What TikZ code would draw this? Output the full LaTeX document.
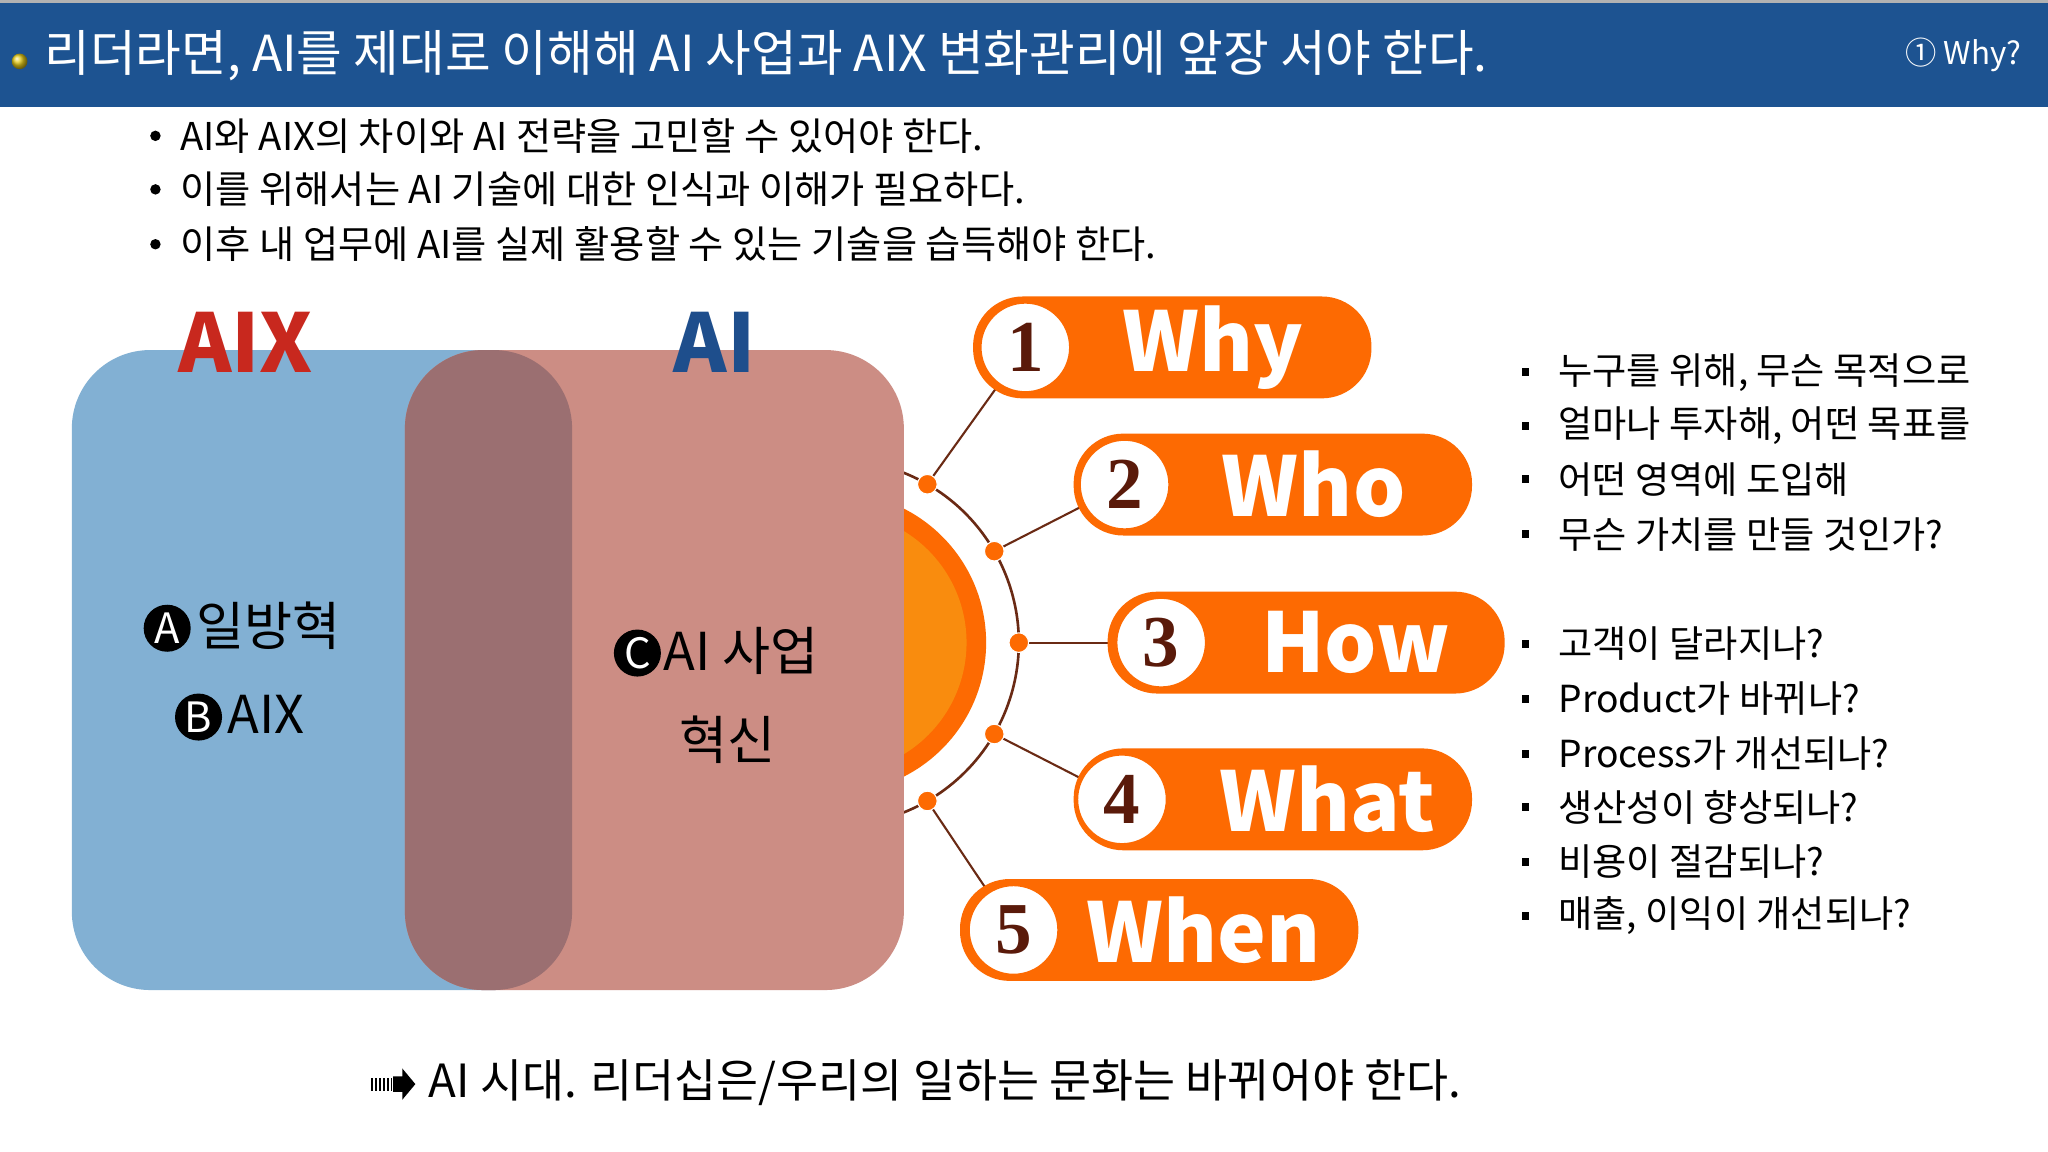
\documentclass[tikz,border=0pt]{standalone}
\usepackage{fontspec}
\setmainfont{Noto Sans CJK KR}
\usetikzlibrary{calc}
\definecolor{hdr}{HTML}{1D5391}
\definecolor{bluebox}{HTML}{82B0D3}
\definecolor{pinkbox}{HTML}{CC8D84}
\definecolor{ovl}{HTML}{9B6F71}
\definecolor{org}{HTML}{FD6A02}
\definecolor{orgin}{HTML}{F98C0E}
\definecolor{brn}{HTML}{6A2A14}
\definecolor{numc}{HTML}{5A1A0A}
\definecolor{aixred}{HTML}{C8281E}
\definecolor{aiblue}{HTML}{1E4E8C}
\tikzset{
 pill/.style={fill=org, rounded corners=38pt},
 numc/.style={circle, fill=white, draw=org, line width=3pt, minimum size=70pt, inner sep=0pt, font=\fontsize{56}{56}\selectfont\bfseries\rmfamily, text=numc},
 wlab/.style={anchor=west, text=white, font=\fontsize{63}{63}\selectfont\bfseries},
 dotn/.style={circle, fill=org, draw=white, line width=0.8pt, minimum size=15pt, inner sep=0pt},
 cl/.style={circle, fill=black, text=white, minimum size=36pt, inner sep=0pt, font=\fontsize{32}{32}\selectfont},
 bigt/.style={font=\fontsize{40}{40}\selectfont, inner sep=0pt},
 rb/.style={anchor=west, font=\fontsize{28.5}{28.5}\selectfont, inner sep=0pt},
 tb/.style={anchor=west, font=\fontsize{29.3}{29.3}\selectfont, inner sep=0pt},
 sq/.style={fill=black, minimum size=6pt, inner sep=0pt},
}
\newfontfamily\numfont{Liberation Serif}
\begin{document}
\begin{tikzpicture}[x=1pt,y=-1pt]
\useasboundingbox (0,0) rectangle (1568,882);
\fill[white] (0,0) rectangle (1568,882);
% header
\fill[hdr] (0,0) rectangle (1568,82);
\fill[gray!60] (0,0) rectangle (1568,2);
\shade[ball color=yellow!60!brown] (15,47) circle (6pt);
\node[anchor=west, text=white, font=\fontsize{38}{38}\selectfont, inner sep=0pt] (title) at (34,43) {리더라면, AI를 제대로 이해해 AI 사업과 AIX 변화관리에 앞장 서야 한다.};
\node[anchor=east, text=white, font=\fontsize{24}{24}\selectfont, inner sep=0pt] (why) at (1548,42) {① Why?};
% top bullets
\foreach \i/\y/\t in {1/104/AI와 AIX의 차이와 AI 전략을 고민할 수 있어야 한다.,2/145/이를 위해서는 AI 기술에 대한 인식과 이해가 필요하다.,3/187/이후 내 업무에 AI를 실제 활용할 수 있는 기술을 습득해야 한다.}{
 \fill (119,\y) circle (4pt);
 \node[tb] (tb\i) at (138,\y) {\t};
}
% sun and arc
\fill[org] (640,492) circle (115);
\fill[orgin] (640,492) circle (100);
\draw[brn, line width=2pt] (640,492) ++(-72:140) arc (-72:72:140);
\foreach \i/\a in {1/-60,2/-30,3/0,4/30,5/60}{
 \coordinate (d\i) at ($(640,492)+(\a:140)$);
}
% boxes
\path[fill=bluebox, rounded corners=60pt] (55,268) rectangle (438,758);
\path[fill=pinkbox, rounded corners=60pt] (310,268) rectangle (692,758);
\begin{scope}
 \clip[rounded corners=60pt] (55,268) rectangle (438,758);
 \path[fill=ovl, rounded corners=60pt] (310,268) rectangle (692,758);
\end{scope}
\node[text=aixred, font=\fontsize{62}{62}\selectfont\bfseries, inner sep=0pt] (aix) at (188,262) {AIX};
\node[text=aiblue, font=\fontsize{62}{62}\selectfont\bfseries, inner sep=0pt] (ai) at (547,262) {AI};
\node[cl] (ca) at (128,481) {A};
\node[bigt, anchor=west] (ta) at (150,479) {일방혁};
\node[cl] (cb) at (152,549) {B};
\node[bigt, anchor=west] (tb) at (174,547) {AIX};
\node[cl] (cc) at (488,500) {C};
\node[bigt, anchor=west] (tc) at (508,498) {AI 사업};
\node[bigt] (tc2) at (557,566) {혁신};
% pills
\foreach \i/\xl/\xr/\y/\cx/\w/\tx in {1/745/1050/266/785/Why/856,2/822/1127/371/861/Who/932,3/848/1152/492/889/How/962,4/822/1127/612/859/What/930,5/735/1040/712/776/When/828}{
 \draw[brn, line width=1.6pt] (d\i) -- (\cx,\y);
 \path[pill] (\xl,{\y-39}) rectangle (\xr,{\y+39});
 \node[numc] (n\i) at (\cx,\y) {\numfont\i};
 \node[wlab] (w\i) at (\tx,\y) {\w};
 \node[dotn] (dn\i) at (d\i) {};
}
% right bullets
\foreach \i/\y/\t in {1/285/누구를 위해{,} 무슨 목적으로,2/326/얼마나 투자해{,} 어떤 목표를,3/367/어떤 영역에 도입해,4/409/무슨 가치를 만들 것인가?,5/493/고객이 달라지나?,6/535/Product가 바뀌나?,7/577/Process가 개선되나?,8/618/생산성이 향상되나?,9/660/비용이 절감되나?,10/701/매출{,} 이익이 개선되나?}{
 \node[sq] (s\i) at (1168,\y) {};
 \node[rb] (r\i) at (1193,\y) {\t};
}
% bottom
\foreach \xx in {284,287,290,293,296,299}{\fill (\xx,825) rectangle (\xx+1.5,835);}
\fill (301,824) -- (308,824) -- (308,818) -- (318,830) -- (308,842) -- (308,836) -- (301,836) -- cycle;
\node[anchor=west, font=\fontsize{35}{35}\selectfont, inner sep=0pt] (bot) at (328,829) {AI 시대. 리더십은/우리의 일하는 문화는 바뀌어야 한다.};
\end{tikzpicture}
\end{document}
